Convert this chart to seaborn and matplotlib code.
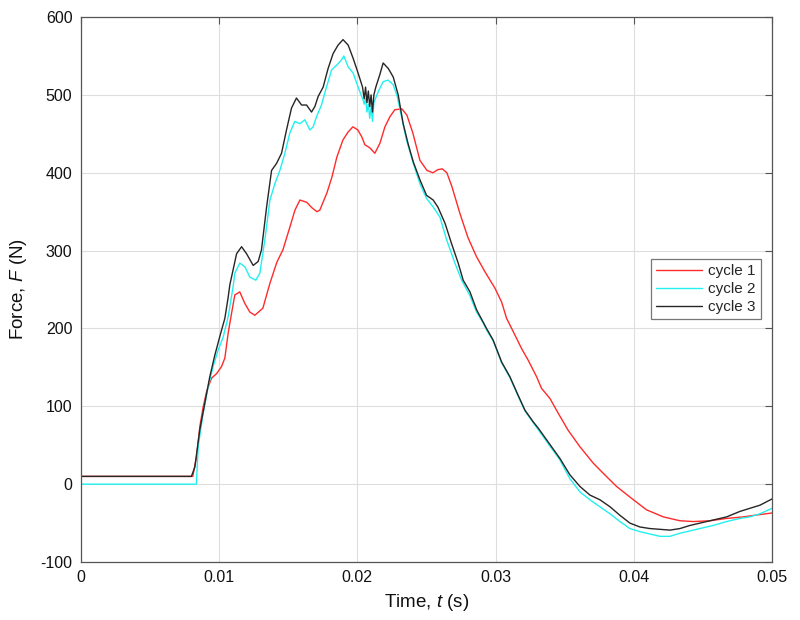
import numpy as np
import pandas as pd
import matplotlib
matplotlib.use("Agg")
import matplotlib.pyplot as plt
import seaborn as sns

# ---- data ----
t_c1 = [0, 0.0081, 0.00837, 0.00861, 0.00885, 0.0091, 0.00945, 0.00982, 0.01018, 0.01042,
        0.01066, 0.0109, 0.01114, 0.0115, 0.01187, 0.01223, 0.01259, 0.01317, 0.01368, 0.01418,
        0.01462, 0.01512, 0.01549, 0.01585, 0.01635, 0.01672, 0.01708, 0.01729, 0.0178, 0.01816,
        0.01852, 0.01896, 0.01932, 0.01968, 0.02004, 0.02033, 0.02055, 0.02091, 0.02127, 0.02164,
        0.022, 0.02236, 0.02272, 0.02323, 0.02359, 0.02402, 0.02453, 0.02504, 0.02547, 0.02583,
        0.02615, 0.02648, 0.02685, 0.02742, 0.028, 0.02863, 0.02923, 0.02995, 0.03044, 0.0308,
        0.03128, 0.03189, 0.03237, 0.03297, 0.03333, 0.03394, 0.03454, 0.03526, 0.03611, 0.03707,
        0.03779, 0.03876, 0.03997, 0.04093, 0.04214, 0.04334, 0.0443, 0.04551, 0.04672, 0.04792,
        0.04913, 0.05]
f_c1 = [10, 10, 35, 74, 99, 119, 136, 142, 151, 162,
        194, 219, 243, 247, 232, 221, 217, 226, 258, 285,
        301, 330, 352, 365, 362, 355, 350, 352, 374, 394,
        420, 442, 452, 459, 455, 446, 436, 432, 425, 438,
        459, 472, 481, 482, 474, 451, 416, 403, 400, 404,
        405, 400, 382, 348, 317, 292, 273, 252, 234, 213,
        196, 174, 159, 138, 123, 110, 91, 69, 48, 27,
        14, -3, -20, -33, -42, -47, -48, -47, -44, -42,
        -39, -37]

t_c2 = [0, 0.00836, 0.00849, 0.00885, 0.00921, 0.00957, 0.00993, 0.0103, 0.01066, 0.01102,
        0.01114, 0.0115, 0.01187, 0.01223, 0.01266, 0.01295, 0.01331, 0.01368, 0.01404, 0.0144,
        0.01476, 0.01512, 0.01548, 0.01585, 0.01621, 0.01657, 0.01681, 0.01705, 0.01741, 0.01777,
        0.01814, 0.0185, 0.01886, 0.01903, 0.01934, 0.0197, 0.02006, 0.02043, 0.0205, 0.0206,
        0.0207, 0.0208, 0.0209, 0.021, 0.0211, 0.0212, 0.02151, 0.02187, 0.02224, 0.0226,
        0.02289, 0.0232, 0.02356, 0.02405, 0.02453, 0.02501, 0.02549, 0.02598, 0.02646, 0.02706,
        0.02755, 0.02815, 0.02863, 0.02911, 0.02935, 0.02983, 0.03044, 0.03104, 0.03164, 0.03213,
        0.03273, 0.03309, 0.03466, 0.03538, 0.03611, 0.03683, 0.03755, 0.03828, 0.039, 0.03972,
        0.04045, 0.04117, 0.0419, 0.04262, 0.04334, 0.04407, 0.04479, 0.04575, 0.04672, 0.04768,
        0.0484, 0.04913, 0.05]
f_c2 = [0, 0, 48, 91, 125, 151, 172, 189, 215, 254,
        271, 284, 279, 266, 262, 271, 313, 365, 386, 403,
        425, 451, 466, 463, 468, 455, 459, 472, 487, 510,
        532, 538, 545, 550, 536, 528, 510, 493, 488, 495,
        478, 488, 470, 485, 466, 490, 504, 517, 519, 513,
        498, 472, 442, 412, 386, 367, 356, 343, 314, 284,
        262, 242, 221, 207, 198, 184, 156, 137, 113, 94,
        79, 70, 31, 7, -10, -20, -29, -38, -48, -57,
        -61, -64, -67, -67, -63, -60, -57, -53, -48, -44,
        -42, -38, -31]

t_c3 = [0, 0.008, 0.00825, 0.00861, 0.00897, 0.00933, 0.0097, 0.01006, 0.01042, 0.01066,
        0.01078, 0.01127, 0.01163, 0.01199, 0.01247, 0.01283, 0.01307, 0.01344, 0.0138, 0.01416,
        0.01452, 0.01488, 0.01524, 0.0156, 0.01597, 0.01633, 0.01669, 0.01693, 0.01717, 0.01753,
        0.01789, 0.01825, 0.01861, 0.01897, 0.01934, 0.0197, 0.02006, 0.02038, 0.0205, 0.0206,
        0.0207, 0.0208, 0.0209, 0.021, 0.0211, 0.0212, 0.02134, 0.02163, 0.02187, 0.02224,
        0.0226, 0.02296, 0.02332, 0.02368, 0.02405, 0.02453, 0.02501, 0.02549, 0.02583, 0.02635,
        0.02682, 0.0273, 0.02766, 0.02815, 0.02863, 0.02935, 0.02983, 0.03044, 0.03104, 0.03164,
        0.03213, 0.03273, 0.03309, 0.03466, 0.03538, 0.03611, 0.03683, 0.03755, 0.03828, 0.039,
        0.03972, 0.04045, 0.04117, 0.0419, 0.04262, 0.04334, 0.04407, 0.04479, 0.04575, 0.04672,
        0.04768, 0.0484, 0.04913, 0.05]
f_c3 = [10, 10, 22, 70, 104, 138, 166, 190, 213, 240,
        256, 296, 305, 296, 281, 286, 301, 356, 403, 412,
        425, 455, 483, 496, 487, 487, 478, 485, 498, 510,
        534, 553, 564, 571, 564, 547, 528, 510, 495, 510,
        490, 505, 485, 500, 478, 500, 510, 526, 541, 534,
        523, 500, 463, 437, 414, 391, 371, 365, 356, 335,
        309, 284, 262, 247, 224, 200, 185, 157, 138, 114,
        95, 80, 72, 33, 12, -3, -14, -20, -29, -40,
        -50, -55, -57, -58, -59, -57, -53, -50, -46, -42,
        -35, -31, -27, -19]

series_names = ["cycle 1", "cycle 2", "cycle 3"]
series_colors = ["#ff2a2a", "#22f0f0", "#262626"]

x_ticks = [0, 0.01, 0.02, 0.03, 0.04, 0.05]
x_tick_labels = ["0", "0.01", "0.02", "0.03", "0.04", "0.05"]
y_ticks = [-100, 0, 100, 200, 300, 400, 500, 600]
y_tick_labels = ["-100", "0", "100", "200", "300", "400", "500", "600"]

df = pd.concat([
    pd.DataFrame({"t": t_c1, "F": f_c1, "cycle": series_names[0], "order": range(len(t_c1))}),
    pd.DataFrame({"t": t_c2, "F": f_c2, "cycle": series_names[1], "order": range(len(t_c2))}),
    pd.DataFrame({"t": t_c3, "F": f_c3, "cycle": series_names[2], "order": range(len(t_c3))}),
], ignore_index=True)

sns.set_theme(style="white")
plt.rcParams["font.family"] = ["Liberation Sans", "DejaVu Sans"]
plt.rcParams["mathtext.fontset"] = "custom"
plt.rcParams["mathtext.rm"] = "Liberation Sans"
plt.rcParams["mathtext.it"] = "Liberation Sans:italic"
plt.rcParams["axes.unicode_minus"] = False

fig = plt.figure(figsize=(8.0, 6.2), dpi=100)
ax = fig.add_axes([0.101, 0.0935, 0.864, 0.879])

sns.lineplot(data=df, x="t", y="F", hue="cycle", palette=dict(zip(series_names, series_colors)),
             estimator=None, sort=False, linewidth=1.0, ax=ax)

ax.set_xlim(0, 0.05)
ax.set_ylim(-100, 600)
ax.set_xticks(x_ticks)
ax.set_xticklabels(x_tick_labels)
ax.set_yticks(y_ticks)
ax.set_yticklabels(y_tick_labels)
ax.grid(True, color="#dedede", linewidth=0.8)
ax.set_axisbelow(True)
for s in ax.spines.values():
    s.set_visible(True)
    s.set_color("#555555")
    s.set_linewidth(0.9)
ax.tick_params(axis="both", direction="in", length=5, width=0.8, color="#555555",
               top=True, right=True, labelsize=11.5, labelcolor="#111111", pad=6)
ax.set_xlabel("Time, $t$ (s)", fontsize=13.5, color="#111111", labelpad=5)
ax.set_ylabel("Force, $F$ (N)", fontsize=13.5, color="#111111", labelpad=8)

leg = ax.legend(loc="upper left", bbox_to_anchor=(0.8245, 0.556), fontsize=11,
                frameon=True, fancybox=False, framealpha=1, edgecolor="#777777",
                handlelength=3.0, handletextpad=0.4, borderpad=0.35, labelspacing=0.25,
                borderaxespad=0)
leg.get_frame().set_linewidth(0.9)

fig.savefig("out.png", dpi=100)
